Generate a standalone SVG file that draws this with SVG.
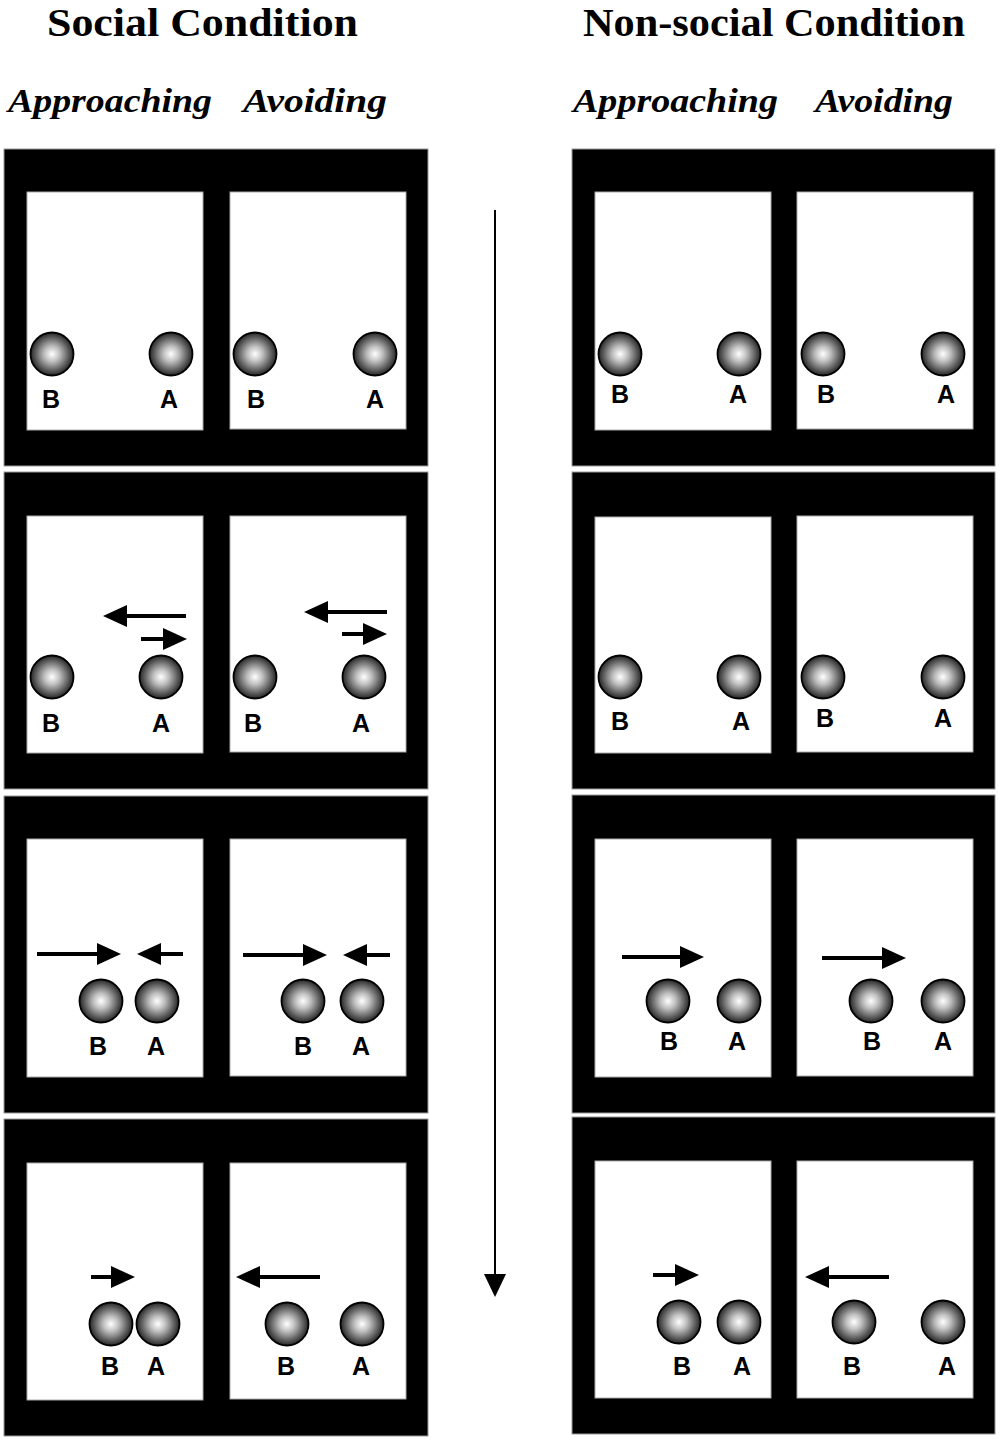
<svg xmlns="http://www.w3.org/2000/svg" width="1000" height="1440" viewBox="0 0 1000 1440">
<style>
.hd{font-family:"Liberation Serif","Times New Roman",serif;font-weight:bold;font-size:40px;fill:#000}
.sub{font-family:"Liberation Serif","Times New Roman",serif;font-weight:bold;font-style:italic;font-size:34px;fill:#000}
.lb{font-family:"Liberation Sans",Arial,sans-serif;font-weight:bold;font-size:25px;fill:#000;text-anchor:middle}
.frame{fill:#000;stroke:#999;stroke-width:1}
.cell{fill:#fff;stroke:#aaa;stroke-width:1}
.ball{fill:url(#sphere);stroke:#000;stroke-width:1.8}
.mv{stroke:#000;stroke-width:4;fill:none;marker-end:url(#head)}
.time{stroke:#000;stroke-width:2;fill:none;marker-end:url(#thead)}
</style>
<defs>
<radialGradient id="sphere" cx="50%" cy="50%" r="50%">
<stop offset="0" stop-color="#ffffff"/>
<stop offset="0.35" stop-color="#c0c0c0"/>
<stop offset="0.8" stop-color="#555555"/>
<stop offset="1" stop-color="#262626"/>
</radialGradient>
<marker id="head" markerUnits="userSpaceOnUse" viewBox="0 0 24 22" markerWidth="24" markerHeight="22" refX="18" refY="11" orient="auto">
<path d="M0,0 L24,11 L0,22 z" fill="#000"/>
</marker>
<marker id="thead" markerUnits="userSpaceOnUse" viewBox="0 0 23 22" markerWidth="23" markerHeight="22" refX="18" refY="11" orient="auto">
<path d="M0,0 L23,11 L0,22 z" fill="#000"/>
</marker>
</defs>
<rect width="1000" height="1440" fill="#fff"/>

<g id="headers">
<text class="hd" x="47" y="36" textLength="311" lengthAdjust="spacingAndGlyphs">Social Condition</text>
<text class="hd" x="583" y="36" textLength="382" lengthAdjust="spacingAndGlyphs">Non-social Condition</text>
<text class="sub" x="8" y="112" textLength="204" lengthAdjust="spacingAndGlyphs">Approaching</text>
<text class="sub" x="243" y="112" textLength="144" lengthAdjust="spacingAndGlyphs">Avoiding</text>
<text class="sub" x="573" y="112" textLength="205" lengthAdjust="spacingAndGlyphs">Approaching</text>
<text class="sub" x="815" y="112" textLength="138" lengthAdjust="spacingAndGlyphs">Avoiding</text>
</g>

<!-- Social condition rows -->
<g id="social-row1">
<rect class="frame" x="4" y="149" width="424" height="317"/>
<rect class="cell" x="27" y="192" width="176" height="238"/>
<rect class="cell" x="230" y="192" width="176" height="237"/>
<circle class="ball" cx="52" cy="354" r="21.5"/><circle class="ball" cx="171" cy="354" r="21.5"/>
<circle class="ball" cx="255" cy="354" r="21.5"/><circle class="ball" cx="375" cy="354" r="21.5"/>
<text class="lb" x="51" y="408">B</text><text class="lb" x="169" y="408">A</text>
<text class="lb" x="256" y="408">B</text><text class="lb" x="375" y="408">A</text>
</g>
<g id="social-row2">
<rect class="frame" x="4" y="472" width="424" height="317"/>
<rect class="cell" x="27" y="516" width="176" height="237"/>
<rect class="cell" x="230" y="516" width="176" height="236"/>
<circle class="ball" cx="52" cy="677" r="21.5"/><circle class="ball" cx="161" cy="677" r="21.5"/>
<circle class="ball" cx="255" cy="677" r="21.5"/><circle class="ball" cx="364" cy="677" r="21.5"/>
<text class="lb" x="51" y="732">B</text><text class="lb" x="161" y="732">A</text>
<text class="lb" x="253" y="732">B</text><text class="lb" x="361" y="732">A</text>
</g>
<g id="social-row3">
<rect class="frame" x="4" y="796" width="424" height="317"/>
<rect class="cell" x="27" y="839" width="176" height="238"/>
<rect class="cell" x="230" y="839" width="176" height="237"/>
<circle class="ball" cx="101" cy="1001" r="21.5"/><circle class="ball" cx="157" cy="1001" r="21.5"/>
<circle class="ball" cx="303" cy="1001" r="21.5"/><circle class="ball" cx="362" cy="1001" r="21.5"/>
<text class="lb" x="98" y="1055">B</text><text class="lb" x="156" y="1055">A</text>
<text class="lb" x="303" y="1055">B</text><text class="lb" x="361" y="1055">A</text>
</g>
<g id="social-row4">
<rect class="frame" x="4" y="1119" width="424" height="317"/>
<rect class="cell" x="27" y="1163" width="176" height="237"/>
<rect class="cell" x="230" y="1163" width="176" height="236"/>
<circle class="ball" cx="111" cy="1324" r="21.5"/><circle class="ball" cx="158" cy="1324" r="21.5"/>
<circle class="ball" cx="287" cy="1324" r="21.5"/><circle class="ball" cx="362" cy="1324" r="21.5"/>
<text class="lb" x="110" y="1375">B</text><text class="lb" x="156" y="1375">A</text>
<text class="lb" x="286" y="1375">B</text><text class="lb" x="361" y="1375">A</text>
</g>

<!-- Non-social condition rows -->
<g id="nonsocial-row1">
<rect class="frame" x="572" y="149" width="423" height="317"/>
<rect class="cell" x="595" y="192" width="176" height="238"/>
<rect class="cell" x="797" y="192" width="176" height="237"/>
<circle class="ball" cx="620" cy="354" r="21.5"/><circle class="ball" cx="739" cy="354" r="21.5"/>
<circle class="ball" cx="823" cy="354" r="21.5"/><circle class="ball" cx="943" cy="354" r="21.5"/>
<text class="lb" x="620" y="403">B</text><text class="lb" x="738" y="403">A</text>
<text class="lb" x="826" y="403">B</text><text class="lb" x="946" y="403">A</text>
</g>
<g id="nonsocial-row2">
<rect class="frame" x="572" y="472" width="423" height="317"/>
<rect class="cell" x="595" y="517" width="176" height="236"/>
<rect class="cell" x="797" y="516" width="176" height="236"/>
<circle class="ball" cx="620" cy="677" r="21.5"/><circle class="ball" cx="739" cy="677" r="21.5"/>
<circle class="ball" cx="823" cy="677" r="21.5"/><circle class="ball" cx="943" cy="677" r="21.5"/>
<text class="lb" x="620" y="730">B</text><text class="lb" x="741" y="730">A</text>
<text class="lb" x="825" y="727">B</text><text class="lb" x="943" y="727">A</text>
</g>
<g id="nonsocial-row3">
<rect class="frame" x="572" y="795" width="423" height="318"/>
<rect class="cell" x="595" y="839" width="176" height="238"/>
<rect class="cell" x="797" y="839" width="176" height="237"/>
<circle class="ball" cx="668" cy="1001" r="21.5"/><circle class="ball" cx="739" cy="1001" r="21.5"/>
<circle class="ball" cx="871" cy="1001" r="21.5"/><circle class="ball" cx="943" cy="1001" r="21.5"/>
<text class="lb" x="669" y="1050">B</text><text class="lb" x="737" y="1050">A</text>
<text class="lb" x="872" y="1050">B</text><text class="lb" x="943" y="1050">A</text>
</g>
<g id="nonsocial-row4">
<rect class="frame" x="572" y="1117" width="423" height="317"/>
<rect class="cell" x="595" y="1161" width="176" height="237"/>
<rect class="cell" x="797" y="1161" width="176" height="237"/>
<circle class="ball" cx="679" cy="1322" r="21.5"/><circle class="ball" cx="739" cy="1322" r="21.5"/>
<circle class="ball" cx="854" cy="1322" r="21.5"/><circle class="ball" cx="943" cy="1322" r="21.5"/>
<text class="lb" x="682" y="1375">B</text><text class="lb" x="742" y="1375">A</text>
<text class="lb" x="852" y="1375">B</text><text class="lb" x="947" y="1375">A</text>
</g>

<g id="connectors">
<line class="time" x1="495" y1="210" x2="495" y2="1292"/>
<!-- social row 2 -->
<line class="mv" x1="186" y1="616" x2="109" y2="616"/>
<line class="mv" x1="141" y1="639" x2="181" y2="639"/>
<line class="mv" x1="387" y1="612" x2="310" y2="612"/>
<line class="mv" x1="342" y1="634" x2="381" y2="634"/>
<!-- social row 3 -->
<line class="mv" x1="37" y1="954" x2="115" y2="954"/>
<line class="mv" x1="183" y1="954" x2="143" y2="954"/>
<line class="mv" x1="243" y1="955" x2="321" y2="955"/>
<line class="mv" x1="390" y1="955" x2="349" y2="955"/>
<!-- social row 4 -->
<line class="mv" x1="91" y1="1277" x2="129" y2="1277"/>
<line class="mv" x1="320" y1="1277" x2="242" y2="1277"/>
<!-- non-social row 3 -->
<line class="mv" x1="622" y1="957" x2="698" y2="957"/>
<line class="mv" x1="822" y1="958" x2="900" y2="958"/>
<!-- non-social row 4 -->
<line class="mv" x1="653" y1="1275" x2="693" y2="1275"/>
<line class="mv" x1="889" y1="1277" x2="811" y2="1277"/>
</g>
</svg>
